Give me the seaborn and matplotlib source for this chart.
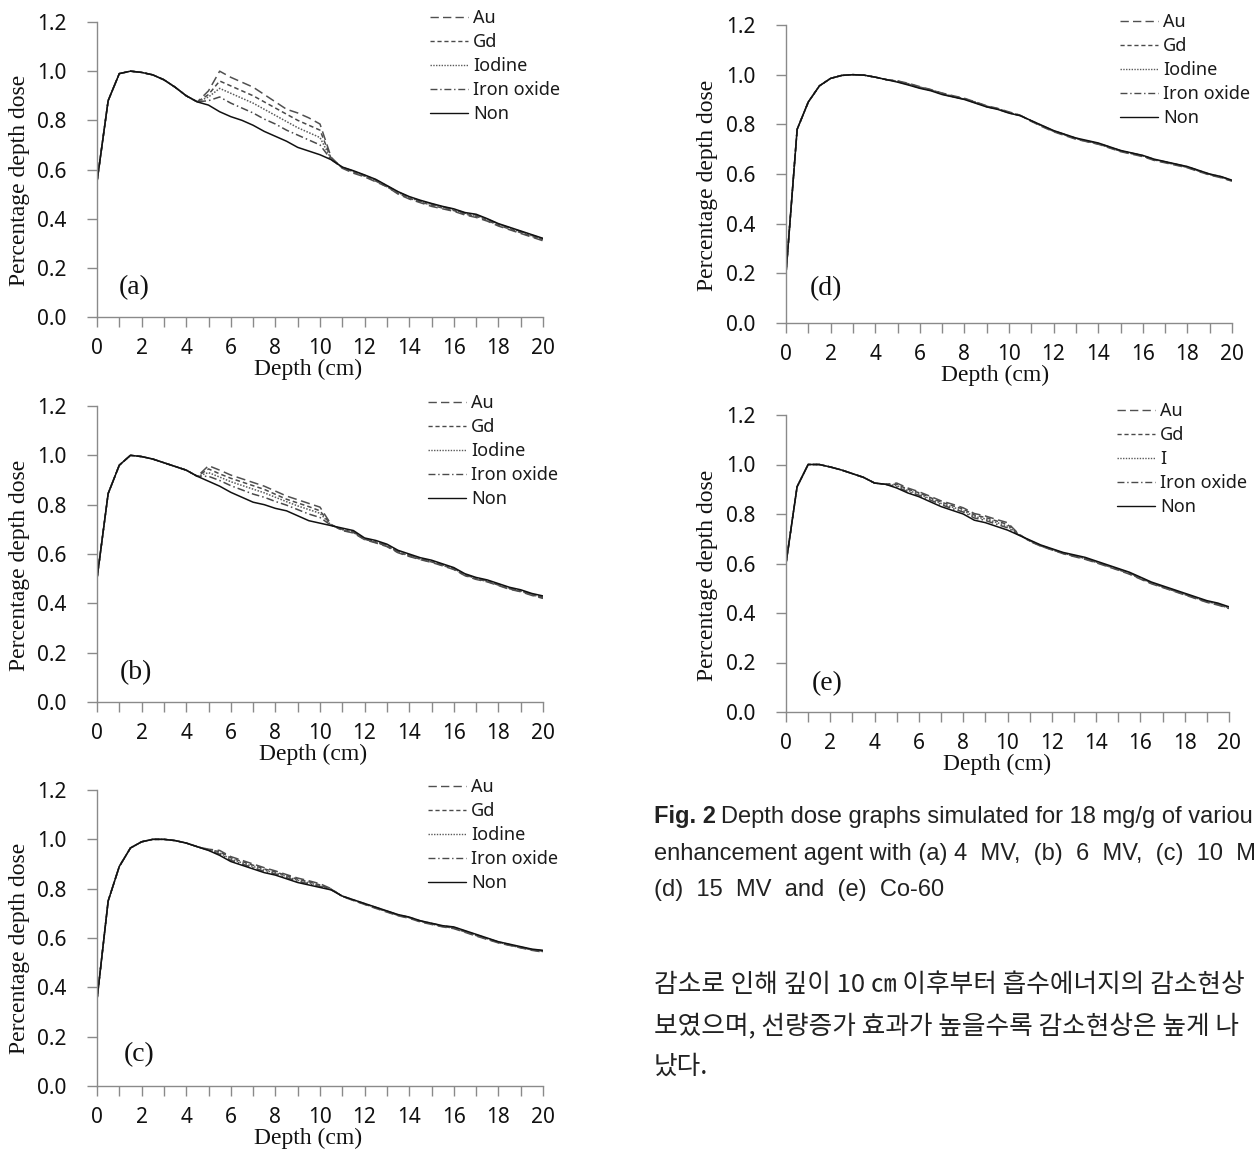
import matplotlib
matplotlib.use("Agg")
import matplotlib.pyplot as plt
import seaborn as sns
import pandas as pd

# depth grid (cm), read every 0.5 cm
depth = [0, 0.5, 1, 1.5, 2, 2.5, 3, 3.5, 4, 4.5, 5, 5.5, 6, 6.5, 7, 7.5, 8, 8.5, 9, 9.5, 10,
         10.5, 11, 11.5, 12, 12.5, 13, 13.5, 14, 14.5, 15, 15.5, 16, 16.5, 17, 17.5, 18, 18.5,
         19, 19.5, 20]

# (a) 4 MV
non_a = [0.55, 0.88, 0.99, 1.00, 0.995, 0.985, 0.965, 0.935, 0.90, 0.875,
         0.862, 0.835, 0.815, 0.80, 0.78, 0.755, 0.735, 0.715, 0.69, 0.675,
         0.66, 0.64, 0.61, 0.595, 0.578, 0.56, 0.535, 0.51, 0.49, 0.475,
         0.462, 0.45, 0.44, 0.425, 0.418, 0.40, 0.38, 0.365, 0.35, 0.335, 0.32]
au_a = non_a[:10] + [0.92, 1.00, 0.975, 0.955, 0.935, 0.905, 0.875, 0.845, 0.83, 0.81, 0.785,
                     0.65, 0.605, 0.585, 0.57, 0.55, 0.53, 0.50, 0.48, 0.465, 0.45,
                     0.44, 0.43, 0.415, 0.405, 0.39, 0.37, 0.355, 0.34, 0.325, 0.31]
gd_a = non_a[:10] + [0.905, 0.96, 0.94, 0.92, 0.90, 0.875, 0.85, 0.825, 0.80, 0.78, 0.76,
                     0.645, 0.607, 0.59, 0.573, 0.553, 0.53, 0.503, 0.483, 0.468, 0.455,
                     0.443, 0.433, 0.418, 0.41, 0.393, 0.373, 0.358, 0.343, 0.328, 0.315]
io_a = non_a[:10] + [0.895, 0.93, 0.91, 0.89, 0.87, 0.845, 0.82, 0.795, 0.77, 0.75, 0.73,
                     0.642, 0.608, 0.592, 0.575, 0.556, 0.532, 0.506, 0.486, 0.47, 0.458,
                     0.446, 0.436, 0.421, 0.413, 0.396, 0.376, 0.361, 0.346, 0.33, 0.316]
fe_a = non_a[:10] + [0.88, 0.895, 0.87, 0.85, 0.83, 0.805, 0.785, 0.76, 0.74, 0.72, 0.70,
                     0.64, 0.609, 0.593, 0.576, 0.558, 0.533, 0.508, 0.488, 0.472, 0.46,
                     0.448, 0.438, 0.423, 0.415, 0.398, 0.378, 0.363, 0.348, 0.333, 0.318]

# (b) 6 MV
non_b = [0.50, 0.845, 0.96, 1.00, 0.995, 0.985, 0.97, 0.955, 0.94, 0.915,
         0.895, 0.875, 0.85, 0.83, 0.81, 0.80, 0.785, 0.775, 0.755, 0.735,
         0.725, 0.715, 0.705, 0.695, 0.665, 0.655, 0.64, 0.615, 0.60, 0.585,
         0.575, 0.56, 0.545, 0.52, 0.505, 0.495, 0.48, 0.465, 0.455, 0.44, 0.43]
au_b = non_b[:10] + [0.958, 0.94, 0.92, 0.905, 0.89, 0.875, 0.855, 0.835, 0.82, 0.805, 0.79,
                     0.72, 0.695, 0.685, 0.658, 0.645, 0.63, 0.605, 0.59, 0.577, 0.566,
                     0.552, 0.537, 0.512, 0.497, 0.487, 0.472, 0.457, 0.447, 0.432, 0.42]
gd_b = non_b[:10] + [0.945, 0.925, 0.907, 0.892, 0.877, 0.862, 0.842, 0.822, 0.807, 0.792, 0.775,
                     0.718, 0.697, 0.687, 0.66, 0.647, 0.632, 0.607, 0.592, 0.579, 0.568,
                     0.554, 0.539, 0.514, 0.499, 0.489, 0.474, 0.459, 0.449, 0.434, 0.422]
io_b = non_b[:10] + [0.93, 0.912, 0.893, 0.878, 0.863, 0.848, 0.83, 0.812, 0.795, 0.78, 0.765,
                     0.717, 0.699, 0.689, 0.661, 0.649, 0.634, 0.609, 0.594, 0.58, 0.57,
                     0.556, 0.541, 0.516, 0.50, 0.491, 0.476, 0.461, 0.45, 0.436, 0.424]
fe_b = non_b[:10] + [0.915, 0.898, 0.877, 0.86, 0.843, 0.83, 0.813, 0.798, 0.78, 0.762, 0.748,
                     0.716, 0.70, 0.69, 0.662, 0.651, 0.636, 0.611, 0.596, 0.582, 0.572,
                     0.557, 0.542, 0.517, 0.502, 0.492, 0.477, 0.462, 0.452, 0.437, 0.425]

# (c) 10 MV
non_c = [0.35, 0.75, 0.89, 0.965, 0.99, 1.00, 1.00, 0.995, 0.985, 0.97,
         0.955, 0.935, 0.91, 0.895, 0.88, 0.865, 0.855, 0.84, 0.825, 0.815,
         0.805, 0.795, 0.77, 0.755, 0.74, 0.725, 0.71, 0.695, 0.685, 0.67,
         0.66, 0.65, 0.645, 0.63, 0.615, 0.60, 0.585, 0.575, 0.565, 0.555, 0.55]
au_c = non_c[:10] + [0.96, 0.955, 0.93, 0.915, 0.90, 0.885, 0.872, 0.857, 0.843, 0.832, 0.82,
                     0.80, 0.768, 0.752, 0.736, 0.72, 0.705, 0.69, 0.68, 0.665, 0.655,
                     0.645, 0.638, 0.623, 0.608, 0.594, 0.58, 0.57, 0.56, 0.55, 0.543]
gd_c = non_c[:10] + [0.958, 0.95, 0.925, 0.91, 0.895, 0.88, 0.868, 0.853, 0.838, 0.828, 0.815,
                     0.798, 0.769, 0.753, 0.737, 0.722, 0.707, 0.692, 0.682, 0.667, 0.657,
                     0.647, 0.64, 0.625, 0.61, 0.596, 0.582, 0.571, 0.561, 0.552, 0.545]
io_c = non_c[:10] + [0.957, 0.945, 0.92, 0.905, 0.89, 0.875, 0.864, 0.849, 0.834, 0.824, 0.812,
                     0.797, 0.77, 0.754, 0.738, 0.723, 0.708, 0.693, 0.683, 0.668, 0.658,
                     0.648, 0.642, 0.627, 0.612, 0.597, 0.583, 0.572, 0.562, 0.553, 0.546]
fe_c = non_c[:10] + [0.956, 0.94, 0.915, 0.90, 0.885, 0.87, 0.86, 0.845, 0.83, 0.82, 0.809,
                     0.796, 0.77, 0.754, 0.739, 0.724, 0.709, 0.694, 0.684, 0.669, 0.659,
                     0.649, 0.643, 0.628, 0.613, 0.598, 0.584, 0.573, 0.563, 0.554, 0.548]

# (d) 15 MV
non_d = [0.20, 0.78, 0.89, 0.955, 0.985, 0.997, 1.00, 0.998, 0.99, 0.98,
         0.97, 0.958, 0.945, 0.935, 0.92, 0.91, 0.90, 0.885, 0.87, 0.86,
         0.845, 0.835, 0.815, 0.795, 0.775, 0.76, 0.745, 0.735, 0.725, 0.71,
         0.695, 0.685, 0.675, 0.66, 0.65, 0.64, 0.63, 0.615, 0.60, 0.59, 0.575]
au_d = non_d[:10] + [0.975, 0.965, 0.952, 0.94, 0.926, 0.915, 0.905, 0.89, 0.875, 0.864, 0.85,
                     0.837, 0.812, 0.79, 0.77, 0.755, 0.74, 0.73, 0.72, 0.705, 0.69,
                     0.68, 0.67, 0.655, 0.645, 0.635, 0.625, 0.61, 0.596, 0.585, 0.571]
gd_d = non_d[:10] + [0.974, 0.963, 0.95, 0.939, 0.925, 0.913, 0.903, 0.889, 0.873, 0.863, 0.848,
                     0.836, 0.813, 0.792, 0.772, 0.757, 0.742, 0.731, 0.721, 0.707, 0.692,
                     0.682, 0.672, 0.657, 0.647, 0.637, 0.627, 0.612, 0.597, 0.587, 0.572]
io_d = non_d[:10] + [0.973, 0.962, 0.949, 0.938, 0.923, 0.912, 0.902, 0.888, 0.872, 0.862, 0.847,
                     0.836, 0.814, 0.793, 0.773, 0.758, 0.743, 0.732, 0.722, 0.708, 0.693,
                     0.683, 0.673, 0.658, 0.648, 0.638, 0.628, 0.613, 0.598, 0.588, 0.573]
fe_d = non_d[:10] + [0.972, 0.96, 0.947, 0.937, 0.922, 0.911, 0.901, 0.887, 0.871, 0.861, 0.846,
                     0.835, 0.814, 0.794, 0.774, 0.759, 0.744, 0.733, 0.723, 0.709, 0.694,
                     0.684, 0.674, 0.659, 0.649, 0.639, 0.629, 0.614, 0.599, 0.589, 0.574]

# (e) Co-60
non_e = [0.60, 0.91, 1.00, 1.00, 0.99, 0.978, 0.963, 0.948, 0.925, 0.92,
         0.905, 0.885, 0.87, 0.85, 0.83, 0.815, 0.80, 0.775, 0.765, 0.75,
         0.735, 0.715, 0.695, 0.675, 0.66, 0.645, 0.635, 0.625, 0.61, 0.595,
         0.58, 0.565, 0.545, 0.525, 0.51, 0.495, 0.48, 0.465, 0.45, 0.44, 0.425]
au_e = non_e[:10] + [0.925, 0.905, 0.89, 0.872, 0.853, 0.84, 0.825, 0.802, 0.792, 0.778, 0.765,
                     0.72, 0.69, 0.67, 0.655, 0.64, 0.628, 0.617, 0.603, 0.588, 0.573,
                     0.557, 0.537, 0.518, 0.503, 0.488, 0.473, 0.458, 0.443, 0.432, 0.418]
gd_e = non_e[:10] + [0.92, 0.90, 0.886, 0.867, 0.848, 0.834, 0.82, 0.796, 0.786, 0.772, 0.758,
                     0.718, 0.691, 0.671, 0.656, 0.641, 0.63, 0.619, 0.605, 0.59, 0.575,
                     0.559, 0.539, 0.52, 0.505, 0.49, 0.475, 0.46, 0.445, 0.434, 0.42]
io_e = non_e[:10] + [0.915, 0.895, 0.881, 0.862, 0.843, 0.828, 0.814, 0.79, 0.78, 0.766, 0.751,
                     0.717, 0.692, 0.672, 0.657, 0.642, 0.631, 0.62, 0.606, 0.591, 0.576,
                     0.561, 0.541, 0.521, 0.506, 0.491, 0.476, 0.461, 0.446, 0.436, 0.421]
fe_e = non_e[:10] + [0.91, 0.89, 0.876, 0.857, 0.838, 0.822, 0.808, 0.784, 0.774, 0.759, 0.744,
                     0.716, 0.693, 0.673, 0.658, 0.643, 0.632, 0.622, 0.607, 0.592, 0.577,
                     0.562, 0.542, 0.522, 0.507, 0.492, 0.477, 0.462, 0.447, 0.437, 0.422]

names = ["Au", "Gd", "Iodine", "Iron oxide", "Non"]
names_e = ["Au", "Gd", "I", "Iron oxide", "Non"]
yticks = [0.0, 0.2, 0.4, 0.6, 0.8, 1.0, 1.2]

line_dashes = [(6, 3), (3, 2), (1, 1), (5, 2, 1, 2), ""]
line_colors = ["#505050", "#4a4a4a", "#5a5a5a", "#4a4a4a", "#111111"]

sns.set_style("ticks")
plt.rcParams["font.family"] = ["Noto Sans", "DejaVu Sans"]

fig = plt.figure(figsize=(12.6, 11.49), dpi=100)
W, H = 1260, 1149


def px_axes(left, right, top, bottom):
    return fig.add_axes([left / W, 1 - bottom / H, (right - left) / W, (bottom - top) / H])


def draw_panel(ax, series, labels, tag, leg_xy, tag_xy, xlab_xy, ylab_xy):
    frames = [pd.DataFrame({"Depth": depth, "Dose": vals, "Agent": lab})
              for lab, vals in zip(labels, series)]
    df = pd.concat(frames, ignore_index=True)
    sns.lineplot(data=df, x="Depth", y="Dose", hue="Agent", style="Agent",
                 palette=dict(zip(labels, line_colors)),
                 dashes=dict(zip(labels, line_dashes)),
                 linewidth=1.1, errorbar=None, estimator=None, ax=ax)

    ax.set_xlim(0, 20)
    ax.set_ylim(0, 1.2)
    ax.set_xticks(range(21))
    ax.set_xticklabels([str(i) if i % 2 == 0 else "" for i in range(21)])
    ax.set_yticks(yticks)
    ax.set_yticklabels([f"{v:.1f}" for v in yticks])
    sns.despine(ax=ax)
    for s in ["left", "bottom"]:
        ax.spines[s].set_color("#8a8a8a")
        ax.spines[s].set_linewidth(1.0)
    ax.tick_params(direction="out", length=7, width=1, color="#8a8a8a",
                   labelsize=15, labelcolor="#111111")
    ax.tick_params(axis="y", pad=15)
    ax.tick_params(axis="x", pad=8)

    ax.set_xlabel("Depth (cm)", family="Liberation Serif", fontsize=17,
                  color="#111111", va="center")
    ax.xaxis.set_label_coords(*xlab_xy)
    ax.set_ylabel("Percentage depth dose", family="Liberation Serif", fontsize=17,
                  color="#111111", va="center")
    ax.yaxis.set_label_coords(*ylab_xy)

    ax.text(tag_xy[0], tag_xy[1], tag, transform=ax.transAxes, family="Liberation Serif",
            fontsize=20, color="#111111", ha="center", va="center")

    old = ax.get_legend()
    handles = old.legend_handles
    texts = [t.get_text() for t in old.texts]
    for h in handles:
        h.set_linewidth(1.0)
    ax.legend(handles, texts, loc="upper left", bbox_to_anchor=(leg_xy[0] / W, 1 - leg_xy[1] / H),
              bbox_transform=fig.transFigure, frameon=False, fontsize=13,
              handlelength=2.1, handletextpad=0.3, labelspacing=0.33,
              borderpad=0, borderaxespad=0, labelcolor="#1a1a1a")


ax_a = px_axes(97, 543, 22, 317)
draw_panel(ax_a, [au_a, gd_a, io_a, fe_a, non_a], names, "(a)",
           (430, 9), (0.083, 0.10), (0.473, -0.178), (-0.173, 0.464))
ax_b = px_axes(97, 543, 406, 702)
draw_panel(ax_b, [au_b, gd_b, io_b, fe_b, non_b], names, "(b)",
           (428, 394), (0.087, 0.10), (0.484, -0.177), (-0.173, 0.463))
ax_c = px_axes(97, 543, 790, 1086)
draw_panel(ax_c, [au_c, gd_c, io_c, fe_c, non_c], names, "(c)",
           (428, 778), (0.094, 0.105), (0.473, -0.177), (-0.173, 0.466))
ax_d = px_axes(786, 1232, 25, 323)
draw_panel(ax_d, [au_d, gd_d, io_d, fe_d, non_d], names, "(d)",
           (1120, 13), (0.09, 0.114), (0.469, -0.176), (-0.177, 0.463))
ax_e = px_axes(786, 1229, 415, 712)
draw_panel(ax_e, [au_e, gd_e, io_e, fe_e, non_e], names_e, "(e)",
           (1117, 402), (0.093, 0.094), (0.476, -0.177), (-0.178, 0.461))

# caption and body text, as far as the page scan shows them
cap_kw = dict(family="Liberation Sans", fontsize=17, color="#222222", va="center")
fig.text(654 / W, 1 - 817 / H, "Fig. 2", weight="bold", **cap_kw)
fig.text(721 / W, 1 - 817 / H, "Depth dose graphs simulated for 18 mg/g of variou", **cap_kw)
fig.text(654 / W, 1 - 854 / H, "enhancement agent with (a) 4  MV,  (b)  6  MV,  (c)  10  M", **cap_kw)
fig.text(654 / W, 1 - 890 / H, "(d)  15  MV  and  (e)  Co-60", **cap_kw)

kr_kw = dict(family=["Noto Sans CJK KR", "DejaVu Sans"], fontsize=18.5, color="#222222", va="center")
fig.text(654 / W, 1 - 985 / H, "감소로 인해 깊이 10 ㎝ 이후부터 흡수에너지의 감소현상", **kr_kw)
fig.text(654 / W, 1 - 1027 / H, "보였으며, 선량증가 효과가 높을수록 감소현상은 높게 나", **kr_kw)
fig.text(654 / W, 1 - 1067 / H, "났다.", **kr_kw)

fig.savefig("out.png", dpi=100)
